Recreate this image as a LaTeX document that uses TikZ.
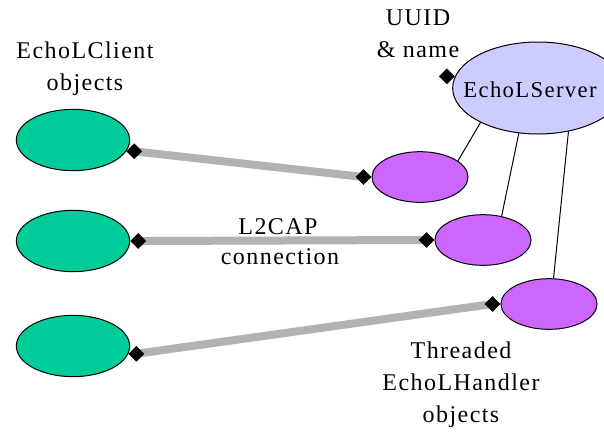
\documentclass[tikz,border=0pt]{standalone}
\usepackage{fontspec}
\setmainfont{Liberation Serif}[LetterSpace=6]
\usetikzlibrary{shapes.geometric}
\definecolor{clientgreen}{RGB}{0,204,153}
\definecolor{handlerpurple}{RGB}{204,102,255}
\definecolor{serverblue}{RGB}{204,204,255}
\definecolor{linkgray}{RGB}{178,178,178}
\tikzset{
  client/.style={ellipse, draw=black, fill=clientgreen, line width=0.75pt,
    minimum width=85pt, minimum height=46pt, inner sep=0pt},
  handler/.style={ellipse, draw=black, fill=handlerpurple, line width=0.75pt,
    minimum width=72pt, minimum height=38pt, inner sep=0pt},
  server/.style={ellipse, draw=black, fill=serverblue, line width=0.75pt,
    minimum width=128pt, minimum height=69pt, inner sep=0pt},
  port/.style={diamond, fill=black, minimum size=12pt, inner sep=0pt},
  link/.style={draw=linkgray, line width=6pt},
  tie/.style={draw=black, line width=0.75pt},
  lbl/.style={font=\fontsize{18}{24}\selectfont, align=center, inner sep=0pt}
}
\begin{document}
\begin{tikzpicture}[x=0.75pt, y=-0.75pt]
  \useasboundingbox (0,0) rectangle (604,433);
  \clip (0,0) rectangle (604,433);

  % clients on the left
  \node[client] (c1) at (73,140) {};
  \node[client] (c2) at (73,241) {};
  \node[client] (c3) at (73,346) {};

  % handlers and server on the right
  \node[server] (srv) at (538,88) {};
  \node[handler] (h1) at (420,177) {};
  \node[handler] (h2) at (483,240) {};
  \node[handler] (h3) at (549,304) {};

  % server to handler ties
  \path[tie] (srv.211) -- (h1.23);
  \path[tie] (srv.247) -- (h2.52);
  \path[tie] (srv.305) -- (h3.80);

  % ports just outside the ellipse borders
  \coordinate (pc1) at ([xshift=6pt]c1.-12);
  \coordinate (pc2) at ([xshift=6pt]c2.east);
  \coordinate (pc3) at ([xshift=6pt]c3.-8);
  \coordinate (ph1) at ([xshift=-6pt]h1.west);
  \coordinate (ph2) at ([xshift=-6pt]h2.west);
  \coordinate (ph3) at ([xshift=-6pt]h3.west);
  \coordinate (psrv) at ([xshift=-6pt]srv.172);

  % L2CAP connections
  \path[link] (pc1) -- (ph1);
  \path[link] (pc2) -- (ph2);
  \path[link] (pc3) -- (ph3);
  \foreach \p in {pc1,pc2,pc3,ph1,ph2,ph3,psrv}
    \node[port] at (\p) {};

  % labels
  \node[lbl] (tclient) at (85,69) {EchoLClient\\objects};
  \node[lbl] (tuuid) at (418,34) {UUID\\\& name};
  \node[lbl, font=\fontsize{17}{22}\selectfont] (tsrv) at (530,90) {EchoLServer};
  \node[lbl] (tl2a) at (278,227) {L2CAP};
  \node[lbl] (tl2b) at (280,257) {connection};
  \node[lbl] (thandler) at (461,385) {Threaded\\EchoLHandler\\objects};
\end{tikzpicture}
\end{document}
